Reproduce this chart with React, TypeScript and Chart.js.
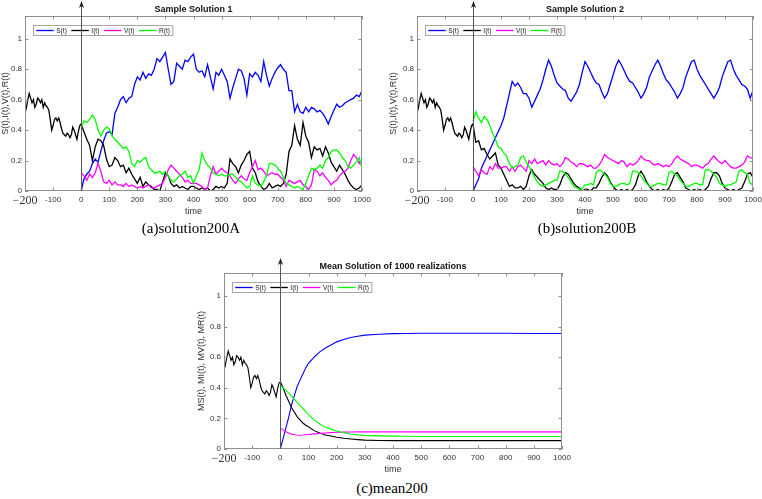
import React, { useEffect, useRef } from 'react';
import { Chart, registerables } from 'chart.js';

Chart.register(...registerables);

const SANS = '"Liberation Sans", Arial, sans-serif';
const SERIF = '"Liberation Serif", "Times New Roman", serif';

// ---------- axes / labels ----------
const xTickVals = [-200, -100, 0, 100, 200, 300, 400, 500, 600, 700, 800, 900, 1000];
const xTickLabels = ['\u2212200', '-100', '0', '100', '200', '300', '400', '500', '600', '700', '800', '900', '1000'];
const yTickVals = [0, 0.2, 0.4, 0.6, 0.8, 1];
const yTickLabels = ['0', '0.2', '0.4', '0.6', '0.8', '1'];
const legendLabels = ['S(t)', 'I(t)', 'V(t)', 'R(t)'];
const seriesColors = ['#0000ff', '#000000', '#ff00ff', '#00ff00'];

// ---------- history (t in [-200, 0]) ----------
const histT = [-200, -195, -190, -185, -180, -175, -170, -165, -160, -155, -150, -145, -140, -135, -130, -125, -120, -115, -110, -105, -100, -95, -90, -85, -80, -75, -70, -65, -60, -55, -50, -45, -40, -35, -30, -25, -20, -15, -10, -5, 0];
const histI = [0.51, 0.55, 0.60, 0.64, 0.61, 0.58, 0.60, 0.55, 0.57, 0.61, 0.60, 0.58, 0.60, 0.55, 0.58, 0.56, 0.55, 0.53, 0.47, 0.40, 0.43, 0.47, 0.48, 0.46, 0.48, 0.45, 0.41, 0.38, 0.37, 0.36, 0.38, 0.37, 0.35, 0.37, 0.42, 0.40, 0.37, 0.34, 0.39, 0.43, 0.44];

// ---------- sample solutions time grid ----------
const solT = [0, 10, 20, 30, 40, 50, 60, 70, 80, 90, 100, 110, 120, 130, 140, 150, 160, 170, 180, 190, 200, 210, 220, 230, 240, 250, 260, 270, 280, 290, 300, 310, 320, 330, 340, 350, 360, 370, 380, 390, 400, 410, 420, 430, 440, 450, 460, 470, 480, 490, 500, 510, 520, 530, 540, 550, 560, 570, 580, 590, 600, 610, 620, 630, 640, 650, 660, 670, 680, 690, 700, 710, 720, 730, 740, 750, 760, 770, 780, 790, 800, 810, 820, 830, 840, 850, 860, 870, 880, 890, 900, 910, 920, 930, 940, 950, 960, 970, 980, 990, 1000];

// Sample Solution 1
const S1 = [0.00, 0.08, 0.11, 0.13, 0.18, 0.21, 0.19, 0.26, 0.33, 0.38,
  0.39, 0.37, 0.51, 0.55, 0.60, 0.62, 0.58, 0.61, 0.62, 0.70,
  0.75, 0.73, 0.78, 0.74, 0.77, 0.76, 0.80, 0.87, 0.85, 0.88,
  0.91, 0.80, 0.70, 0.72, 0.84, 0.82, 0.80, 0.86, 0.85, 0.88,
  0.90, 0.80, 0.78, 0.79, 0.75, 0.83, 0.75, 0.67, 0.78, 0.76,
  0.80, 0.76, 0.72, 0.61, 0.68, 0.74, 0.80, 0.79, 0.74, 0.63,
  0.77, 0.75, 0.78, 0.76, 0.72, 0.85, 0.76, 0.69, 0.74, 0.78,
  0.81, 0.83, 0.80, 0.78, 0.66, 0.66, 0.52, 0.57, 0.52, 0.51,
  0.55, 0.52, 0.55, 0.54, 0.52, 0.53, 0.51, 0.48, 0.44, 0.49,
  0.53, 0.57, 0.55, 0.56, 0.58, 0.59, 0.60, 0.61, 0.63, 0.62,
  0.66];
const I1 = [0.44, 0.39, 0.34, 0.30, 0.20, 0.29, 0.34, 0.33, 0.30, 0.21,
  0.16, 0.17, 0.22, 0.20, 0.16, 0.17, 0.12, 0.15, 0.11, 0.08,
  0.05, 0.09, 0.03, 0.06, 0.04, 0.03, 0.01, 0.01, 0.00, 0.06,
  0.12, 0.10, 0.05, 0.03, 0.04, 0.02, 0.03, 0.02, 0.01, 0.03,
  0.03, 0.02, 0.01, 0.02, 0.01, 0.02, 0.00, 0.01, 0.03, 0.02,
  0.03, 0.02, 0.05, 0.21, 0.18, 0.16, 0.12, 0.17, 0.20, 0.24,
  0.26, 0.15, 0.12, 0.06, 0.03, 0.01, 0.02, 0.05, 0.02, 0.03,
  0.04, 0.03, 0.05, 0.11, 0.26, 0.30, 0.43, 0.34, 0.30, 0.45,
  0.36, 0.32, 0.22, 0.29, 0.27, 0.28, 0.23, 0.29, 0.25, 0.19,
  0.16, 0.13, 0.17, 0.14, 0.11, 0.07, 0.04, 0.02, 0.01, 0.02,
  0.04];
const V1 = [0.12, 0.10, 0.07, 0.11, 0.09, 0.12, 0.18, 0.13, 0.06, 0.05,
  0.07, 0.04, 0.06, 0.04, 0.04, 0.03, 0.05, 0.03, 0.04, 0.03,
  0.02, 0.03, 0.02, 0.03, 0.04, 0.02, 0.02, 0.03, 0.04, 0.05,
  0.09, 0.14, 0.17, 0.15, 0.13, 0.11, 0.09, 0.06, 0.07, 0.05,
  0.05, 0.05, 0.04, 0.03, 0.01, 0.02, 0.10, 0.16, 0.11, 0.13,
  0.15, 0.13, 0.12, 0.10, 0.07, 0.05, 0.08, 0.10, 0.08, 0.07,
  0.12, 0.16, 0.20, 0.14, 0.15, 0.13, 0.10, 0.11, 0.12, 0.11,
  0.11, 0.09, 0.07, 0.03, 0.07, 0.06, 0.05, 0.06, 0.07, 0.04,
  0.03, 0.01, 0.04, 0.14, 0.13, 0.10, 0.12, 0.09, 0.07, 0.04,
  0.06, 0.07, 0.10, 0.12, 0.13, 0.15, 0.20, 0.24, 0.22, 0.18,
  0.20];
const R1 = [0.41, 0.46, 0.45, 0.47, 0.50, 0.47, 0.40, 0.36, 0.40, 0.42,
  0.41, 0.36, 0.34, 0.32, 0.30, 0.28, 0.29, 0.26, 0.18, 0.16,
  0.20, 0.19, 0.21, 0.22, 0.16, 0.14, 0.12, 0.12, 0.13, 0.11,
  0.13, 0.10, 0.07, 0.06, 0.08, 0.10, 0.11, 0.13, 0.09, 0.10,
  0.05, 0.10, 0.14, 0.25, 0.20, 0.17, 0.15, 0.12, 0.11, 0.10,
  0.11, 0.10, 0.10, 0.11, 0.11, 0.09, 0.07, 0.06, 0.04, 0.02,
  0.03, 0.10, 0.05, 0.04, 0.03, 0.06, 0.10, 0.18, 0.18, 0.17,
  0.15, 0.13, 0.09, 0.05, 0.04, 0.03, 0.02, 0.03, 0.02, 0.01,
  0.05, 0.10, 0.15, 0.14, 0.15, 0.17, 0.15, 0.20, 0.22, 0.26,
  0.27, 0.27, 0.25, 0.22, 0.20, 0.16, 0.15, 0.17, 0.19, 0.22,
  0.15];

// Sample Solution 2
const S2 = [0.00, 0.04, 0.08, 0.15, 0.19, 0.23, 0.27, 0.31, 0.35, 0.39,
  0.43, 0.48, 0.56, 0.64, 0.72, 0.69, 0.71, 0.68, 0.64, 0.64,
  0.61, 0.55, 0.59, 0.63, 0.67, 0.73, 0.80, 0.86, 0.82, 0.76,
  0.71, 0.69, 0.67, 0.66, 0.61, 0.59, 0.62, 0.65, 0.70, 0.78,
  0.85, 0.82, 0.78, 0.74, 0.71, 0.70, 0.65, 0.61, 0.64, 0.70,
  0.76, 0.82, 0.86, 0.83, 0.79, 0.75, 0.72, 0.71, 0.68, 0.65,
  0.61, 0.64, 0.68, 0.75, 0.79, 0.83, 0.86, 0.82, 0.77, 0.73,
  0.71, 0.68, 0.65, 0.61, 0.64, 0.68, 0.75, 0.80, 0.85, 0.86,
  0.80, 0.76, 0.73, 0.70, 0.67, 0.64, 0.61, 0.64, 0.68, 0.75,
  0.80, 0.85, 0.86, 0.80, 0.76, 0.73, 0.70, 0.69, 0.67, 0.61,
  0.66];
const I2 = [0.44, 0.32, 0.33, 0.27, 0.28, 0.24, 0.21, 0.23, 0.25, 0.17,
  0.15, 0.11, 0.07, 0.03, 0.04, 0.02, 0.02, 0.03, 0.01, 0.03,
  0.10, 0.14, 0.11, 0.09, 0.07, 0.05, 0.02, 0.01, 0.02, 0.01,
  0.01, 0.04, 0.09, 0.12, 0.11, 0.08, 0.05, 0.03, 0.02, 0.00,
  0.01, 0.01, 0.00, 0.02, 0.02, 0.05, 0.09, 0.12, 0.10, 0.06,
  0.03, 0.01, 0.00, 0.01, 0.00, 0.01, 0.00, 0.01, 0.04, 0.10,
  0.13, 0.10, 0.06, 0.03, 0.01, 0.00, 0.01, 0.00, 0.01, 0.00,
  0.02, 0.06, 0.11, 0.12, 0.09, 0.06, 0.02, 0.01, 0.00, 0.01,
  0.00, 0.01, 0.00, 0.01, 0.03, 0.08, 0.12, 0.12, 0.10, 0.05,
  0.02, 0.01, 0.00, 0.01, 0.00, 0.01, 0.02, 0.06, 0.11, 0.12,
  0.09];
const V2 = [0.16, 0.13, 0.10, 0.14, 0.12, 0.11, 0.16, 0.14, 0.18, 0.15,
  0.15, 0.16, 0.16, 0.13, 0.16, 0.13, 0.16, 0.17, 0.15, 0.13,
  0.20, 0.18, 0.21, 0.18, 0.19, 0.20, 0.17, 0.20, 0.18, 0.17,
  0.18, 0.16, 0.18, 0.22, 0.21, 0.19, 0.18, 0.16, 0.18, 0.18,
  0.17, 0.16, 0.17, 0.15, 0.15, 0.17, 0.20, 0.24, 0.22, 0.21,
  0.20, 0.19, 0.18, 0.20, 0.19, 0.16, 0.18, 0.17, 0.18, 0.20,
  0.23, 0.21, 0.20, 0.20, 0.18, 0.17, 0.18, 0.17, 0.16, 0.17,
  0.16, 0.18, 0.21, 0.23, 0.21, 0.20, 0.19, 0.18, 0.16, 0.17,
  0.17, 0.16, 0.15, 0.17, 0.18, 0.21, 0.23, 0.21, 0.19, 0.18,
  0.20, 0.18, 0.16, 0.15, 0.15, 0.16, 0.17, 0.19, 0.23, 0.22,
  0.21];
const R2 = [0.46, 0.52, 0.48, 0.45, 0.49, 0.47, 0.43, 0.38, 0.34, 0.29,
  0.28, 0.25, 0.23, 0.18, 0.15, 0.16, 0.17, 0.22, 0.23, 0.19,
  0.16, 0.13, 0.09, 0.06, 0.04, 0.03, 0.04, 0.05, 0.06, 0.07,
  0.07, 0.13, 0.13, 0.11, 0.09, 0.06, 0.03, 0.02, 0.01, 0.02,
  0.04, 0.04, 0.05, 0.04, 0.12, 0.14, 0.13, 0.11, 0.09, 0.05,
  0.03, 0.03, 0.04, 0.05, 0.05, 0.04, 0.05, 0.13, 0.13, 0.12,
  0.10, 0.07, 0.05, 0.03, 0.03, 0.04, 0.05, 0.05, 0.04, 0.04,
  0.12, 0.13, 0.11, 0.10, 0.07, 0.05, 0.03, 0.03, 0.04, 0.05,
  0.05, 0.04, 0.04, 0.14, 0.14, 0.13, 0.11, 0.09, 0.05, 0.04,
  0.03, 0.04, 0.04, 0.05, 0.06, 0.13, 0.14, 0.12, 0.11, 0.05,
  0.04];

// Mean solution
const meanT = [0, 10, 20, 30, 40, 50, 60, 70, 80, 90, 100, 120, 140, 160, 180, 200, 225, 250, 275, 300, 350, 400, 450, 500, 600, 700, 800, 900, 1000];
const S3 = [0, 0.07, 0.14, 0.21, 0.29, 0.35, 0.41, 0.45, 0.49, 0.53, 0.56, 0.60, 0.635, 0.66, 0.68, 0.70, 0.715, 0.728, 0.737, 0.744, 0.75, 0.754, 0.755, 0.756, 0.756, 0.756, 0.756, 0.755, 0.755];
const I3 = [0.44, 0.40, 0.35, 0.31, 0.27, 0.24, 0.21, 0.19, 0.17, 0.155, 0.145, 0.12, 0.105, 0.092, 0.085, 0.077, 0.07, 0.065, 0.061, 0.058, 0.056, 0.055, 0.055, 0.055, 0.055, 0.055, 0.055, 0.055, 0.055];
const V3 = [0.135, 0.125, 0.113, 0.104, 0.097, 0.093, 0.091, 0.09, 0.091, 0.093, 0.095, 0.099, 0.102, 0.105, 0.107, 0.109, 0.11, 0.111, 0.112, 0.112, 0.112, 0.112, 0.112, 0.112, 0.112, 0.112, 0.112, 0.112, 0.112];
const R3 = [0.415, 0.40, 0.383, 0.365, 0.345, 0.325, 0.305, 0.285, 0.265, 0.245, 0.225, 0.19, 0.163, 0.143, 0.13, 0.118, 0.106, 0.098, 0.092, 0.089, 0.086, 0.084, 0.083, 0.082, 0.082, 0.082, 0.082, 0.082, 0.082];

const titles = ['Sample Solution 1', 'Sample Solution 2', 'Mean Solution of 1000 realizations'];
const yTitles = ['S(t),I(t),V(t),R(t)', 'S(t),I(t),V(t),R(t)', 'MS(t), MI(t), MV(t), MR(t)'];
const captions = ['(a)solution200A', '(b)solution200B', '(c)mean200'];

// ---------- helpers ----------
function pts(ts: number[], vs: number[]) {
  return ts.map((t, i) => ({ x: t, y: vs[i] }));
}

function buildDatasets(tArr: number[], S: number[], I: number[], V: number[], R: number[], lw: number) {
  const raw = [
    { label: legendLabels[0], data: pts(tArr, S), borderColor: seriesColors[0], order: 4 },
    { label: legendLabels[1], data: [...pts(histT, histI), ...pts(tArr, I).slice(1)], borderColor: seriesColors[1], order: 3 },
    { label: legendLabels[2], data: pts(tArr, V), borderColor: seriesColors[2], order: 2 },
    { label: legendLabels[3], data: pts(tArr, R), borderColor: seriesColors[3], order: 1 },
  ];
  return raw.map((d) => ({ ...d, borderWidth: lw, pointRadius: 0, fill: false, tension: 0 }));
}

const BOX = '#8f8f8f';
const TXT = '#333333';

const decorPlugin = {
  id: 'decor',
  afterDatasetsDraw(chart: any, _args: any, opts: any) {
    const { ctx, chartArea: ca, scales } = chart;
    const xs = scales.x;
    const ys = scales.y;
    ctx.save();
    // axes box
    ctx.strokeStyle = BOX;
    ctx.lineWidth = 1;
    ctx.strokeRect(ca.left + 0.5, ca.top + 0.5, ca.right - ca.left - 1, ca.bottom - ca.top - 1);
    // inward ticks on all four sides
    const tl = 3.4;
    ctx.beginPath();
    for (const v of xTickVals) {
      const px = Math.round(xs.getPixelForValue(v)) + 0.5;
      ctx.moveTo(px, ca.bottom);
      ctx.lineTo(px, ca.bottom - tl);
      ctx.moveTo(px, ca.top);
      ctx.lineTo(px, ca.top + tl);
    }
    for (const v of yTickVals) {
      const py = Math.round(ys.getPixelForValue(v)) + 0.5;
      ctx.moveTo(ca.left, py);
      ctx.lineTo(ca.left + tl, py);
      ctx.moveTo(ca.right, py);
      ctx.lineTo(ca.right - tl, py);
    }
    ctx.stroke();

    // legend
    const lf = 6.6;
    ctx.font = `${lf}px ${SANS}`;
    const widths = legendLabels.map((l) => ctx.measureText(l).width);
    const lineLen = 17.5;
    const gapTxt = 2.5;
    const gapItem = 4.5;
    let totalW = 2.7;
    widths.forEach((w, i) => {
      totalW += lineLen + gapTxt + w + (i < widths.length - 1 ? gapItem : 2.8);
    });
    const bx = Math.round(ca.left + 8) + 0.5;
    const by = Math.round(ca.top + 9) + 0.5;
    const bh = 10;
    ctx.fillStyle = '#ffffff';
    ctx.fillRect(bx, by, totalW, bh);
    ctx.strokeStyle = '#a6a6a6';
    ctx.lineWidth = 1;
    ctx.strokeRect(bx, by, totalW, bh);
    let ix = bx + 2.7;
    const my = by + bh / 2;
    ctx.textBaseline = 'middle';
    ctx.textAlign = 'left';
    legendLabels.forEach((l, i) => {
      ctx.strokeStyle = seriesColors[i];
      ctx.lineWidth = 1.3;
      ctx.beginPath();
      ctx.moveTo(ix, my);
      ctx.lineTo(ix + lineLen, my);
      ctx.stroke();
      ctx.fillStyle = '#222222';
      ctx.fillText(l, ix + lineLen + gapTxt, my + 0.3);
      ix += lineLen + gapTxt + widths[i] + gapItem;
    });

    // vertical arrow at t = 0
    const x0 = Math.round(xs.getPixelForValue(0)) + 0.5;
    const top = ca.top - 15;
    ctx.strokeStyle = '#555555';
    ctx.lineWidth = 1;
    ctx.beginPath();
    ctx.moveTo(x0, ca.bottom);
    ctx.lineTo(x0, top + 4);
    ctx.stroke();
    ctx.fillStyle = '#222222';
    ctx.beginPath();
    ctx.moveTo(x0, top);
    ctx.lineTo(x0 + 2.6, top + 7);
    ctx.lineTo(x0, top + 5);
    ctx.lineTo(x0 - 2.6, top + 7);
    ctx.closePath();
    ctx.fill();

    // title
    ctx.fillStyle = '#111111';
    ctx.font = `bold 9px ${SANS}`;
    ctx.textAlign = 'center';
    ctx.textBaseline = 'middle';
    ctx.fillText(opts.title, (ca.left + ca.right) / 2, ca.top - 6);
    ctx.restore();
  },
};

interface PlotSpec {
  left: number;
  top: number;
  w: number;
  h: number;
  yAxisW: number;
  padTop: number;
  padRight: number;
  title: string;
  yTitle: string;
  datasets: any[];
}

function makeConfig(p: PlotSpec): any {
  return {
    type: 'line',
    data: { datasets: p.datasets },
    options: {
      animation: false,
      responsive: false,
      maintainAspectRatio: false,
      devicePixelRatio: 1,
      layout: { padding: { left: 0, right: p.padRight, top: p.padTop, bottom: 0 } },
      plugins: {
        legend: { display: false },
        tooltip: { enabled: false },
        decor: { title: p.title },
      },
      scales: {
        x: {
          type: 'linear',
          min: -200,
          max: 1000,
          grid: { display: false, drawTicks: false },
          border: { display: false },
          afterBuildTicks: (s: any) => {
            s.ticks = xTickVals.map((v) => ({ value: v }));
          },
          afterFit: (s: any) => {
            s.height = 29;
            s.paddingLeft = 0;
            s.paddingRight = 0;
          },
          ticks: {
            padding: 4,
            color: TXT,
            autoSkip: false,
            maxRotation: 0,
            font: (c: any) =>
              c.tick && c.tick.value === -200
                ? { family: SERIF, size: 12, lineHeight: 1.0 }
                : { family: SANS, size: 8 },
            callback: (_v: any, i: number) => xTickLabels[i],
          },
          title: {
            display: true,
            text: 'time',
            color: TXT,
            font: { family: SANS, size: 9 },
            padding: { top: 0, bottom: 3.1 },
          },
        },
        y: {
          type: 'linear',
          min: 0,
          max: 1.15,
          grid: { display: false, drawTicks: false },
          border: { display: false },
          afterBuildTicks: (s: any) => {
            s.ticks = yTickVals.map((v) => ({ value: v }));
          },
          afterFit: (s: any) => {
            s.width = p.yAxisW;
            s.paddingTop = 0;
            s.paddingBottom = 0;
          },
          ticks: {
            padding: 3,
            color: TXT,
            autoSkip: false,
            font: { family: SANS, size: 8 },
            callback: (_v: any, i: number) => yTickLabels[i],
          },
          title: {
            display: true,
            text: p.yTitle,
            color: TXT,
            font: { family: SANS, size: 9 },
            padding: { top: 0, bottom: 0 },
          },
        },
      },
    },
    plugins: [decorPlugin],
  };
}

function Plot({ spec }: { spec: PlotSpec }) {
  const ref = useRef<HTMLCanvasElement>(null);
  useEffect(() => {
    const chart = new Chart(ref.current as HTMLCanvasElement, makeConfig(spec));
    return () => chart.destroy();
  }, []);
  return (
    <canvas
      ref={ref}
      width={spec.w}
      height={spec.h}
      style={{ position: 'absolute', left: spec.left, top: spec.top, width: spec.w, height: spec.h }}
    />
  );
}

const specs: PlotSpec[] = [
  { left: 0, top: 0, w: 381, h: 220, yAxisW: 25, padTop: 16, padRight: 19, title: titles[0], yTitle: yTitles[0], datasets: buildDatasets(solT, S1, I1, V1, R1, 1.3) },
  { left: 388, top: 0, w: 374, h: 220, yAxisW: 29, padTop: 16, padRight: 9, title: titles[1], yTitle: yTitles[1], datasets: buildDatasets(solT, S2, I2, V2, R2, 1.3) },
  { left: 196, top: 252, w: 381, h: 226, yAxisW: 28, padTop: 21, padRight: 15, title: titles[2], yTitle: yTitles[2], datasets: buildDatasets(meanT, S3, I3, V3, R3, 1.1) },
];

const captionPos = [
  { cx: 191, cy: 228 },
  { cx: 587, cy: 228 },
  { cx: 392, cy: 488.3 },
];

export default function App() {
  return (
    <div style={{ position: 'absolute', left: 0, top: 0, width: 762, height: 499, background: '#ffffff', overflow: 'hidden' }}>
      {specs.map((s, i) => (
        <Plot key={i} spec={s} />
      ))}
      {captions.map((c, i) => (
        <div
          key={'c' + i}
          style={{
            position: 'absolute',
            left: captionPos[i].cx - 100,
            top: captionPos[i].cy - 9,
            width: 200,
            height: 18,
            lineHeight: '18px',
            textAlign: 'center',
            fontFamily: SERIF,
            fontSize: 15,
            color: '#000000',
            whiteSpace: 'nowrap',
          }}
        >
          {c}
        </div>
      ))}
    </div>
  );
}
